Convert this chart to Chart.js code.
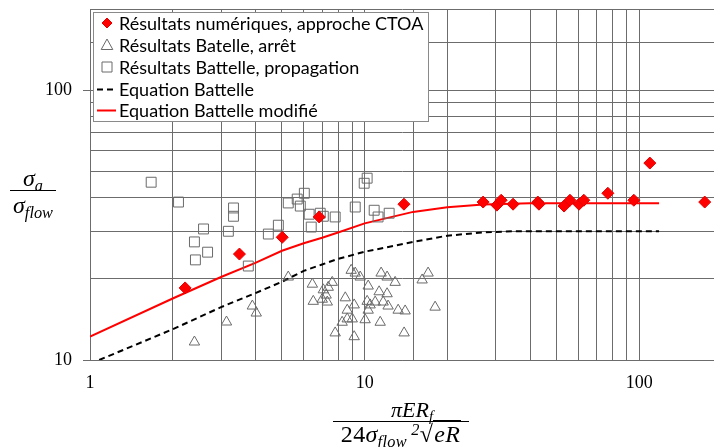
<!DOCTYPE html>
<html>
<head>
<meta charset="utf-8">
<script src="https://cdn.jsdelivr.net/npm/chart.js@4.4.1/dist/chart.umd.min.js"></script>
<style>
  html, body { margin: 0; padding: 0; background: #fff; }
  #wrap { position: relative; width: 714px; height: 447px; overflow: hidden; }
  canvas { position: absolute; left: 0; top: 0; }
  .math { position: absolute; font-family: 'Liberation Serif', 'DejaVu Serif', serif; font-style: italic; color: #000; text-align: center; white-space: nowrap; }
  .math sub { font-size: 0.68em; vertical-align: -0.3em; line-height: 0; }
  .math sup { font-size: 0.68em; vertical-align: 0.45em; line-height: 0; }
  .up { font-style: normal; }
  .bar { border-top: 1.5px solid #000; }
  .rad { border-top: 1px solid #000; padding: 0 1px; }
</style>
</head>
<body>
<div id="wrap">
  <canvas id="c" width="714" height="447"></canvas>
  <div class="math" style="left:10px; top:166px; width:46px; font-size:24px;">
    <div style="line-height:24px;">σ<sub>a</sub></div>
    <div class="bar" style="line-height:24px; padding-top:2px;">σ<sub>flow</sub></div>
  </div>
  <div class="math" style="left:333px; top:398px; width:136px; font-size:22px;">
    <div style="line-height:23px; padding-left:22px;">πER<sub>f</sub></div>
    <div class="bar" style="line-height:23px; padding-top:1px; font-size:24px; letter-spacing:0.3px;"><span class="up">24</span>σ<sub>flow</sub><sup>&nbsp;2</sup><span class="up">√</span><span class="rad">eR</span></div>
  </div>
</div>
<script>
// ---- data ----
const numX = [2.22, 3.50, 5.01, 6.83, 13.9, 27.0, 30.3, 31.4, 34.7, 42.7, 43.1, 53.2, 55.9, 60.3, 62.8, 76.8, 95.5, 109.2, 173];
const numY = [18.5, 24.7, 28.5, 33.9, 37.8, 38.5, 37.5, 39.1, 37.8, 38.5, 37.8, 37.2, 39.1, 37.8, 39.1, 41.5, 39.1, 53.7, 38.5];

const arretX = [2.40, 3.14, 3.90, 4.03, 5.27, 6.45, 6.50, 7.07, 7.24, 7.01, 7.31, 7.37, 7.62, 7.81, 8.28,
                8.50, 8.64, 8.64, 8.93, 9.01, 9.16, 9.16, 9.24, 9.63, 10.04, 10.21, 10.30, 10.30, 10.47, 10.92,
                11.39, 11.29, 11.48, 11.68, 12.07, 12.07, 12.17, 12.91, 13.24, 14.04, 13.92, 16.19, 17.02, 18.05];
const arretY = [11.66, 13.83, 15.85, 14.93, 20.3, 19.1, 16.5, 18.2, 17.4, 16.8, 16.4, 18.6, 19.4, 12.6, 13.8,
                17.0, 15.3, 14.2, 21.5, 14.2, 12.2, 16.0, 21.0, 20.3, 14.1, 16.5, 15.3, 18.8, 16.0, 16.4,
                13.8, 17.9, 21.0, 16.4, 20.3, 17.6, 15.85, 19.4, 15.3, 15.2, 12.6, 19.8, 21.0, 15.7];

const propX = [1.67, 2.10, 3.33, 3.33, 2.59, 3.19, 2.40, 2.68, 2.42, 3.77, 4.46, 4.85, 5.27, 5.68, 5.83,
               6.03, 6.28, 6.39, 6.89, 7.07, 7.81, 9.24, 9.96, 10.21, 10.83, 11.19, 12.28];
const propY = [45.6, 38.5, 36.6, 34.1, 30.6, 30.0, 27.4, 25.1, 23.5, 22.3, 29.3, 31.6, 38.2, 39.5, 37.2,
               41.5, 34.7, 31.1, 35.0, 34.1, 33.9, 36.9, 45.2, 47.2, 35.9, 33.9, 35.0];

const batX = [1.08, 2, 3, 4, 5, 6, 7, 8, 10, 15, 20, 27, 35, 60, 90, 118];
const batY = [10.0, 13.0, 15.7, 17.7, 19.5, 21.4, 22.6, 23.7, 25.2, 27.4, 28.9, 29.7, 30.0, 30.0, 30.0, 30.0];

const modX = [1, 2, 3, 4, 5, 6, 7, 8, 10, 15, 20, 27, 40, 60, 90, 118];
const modY = [12.2, 16.9, 20.3, 22.9, 25.4, 27.1, 28.4, 29.7, 32.1, 35.4, 36.8, 37.7, 38.1, 38.1, 38.1, 38.1];

const labels = [
  'Résultats numériques, approche CTOA',
  'Résultats Batelle, arrêt',
  'Résultats Battelle, propagation',
  'Equation Battelle',
  'Equation Battelle modifié'
];
const xLabelTicks = [1, 10, 100];
const yLabelTicks = [10, 100];

// ---- chart ----
const pts = (xs, ys) => xs.map((x, i) => ({ x: x, y: ys[i] }));
const GRID = '#6c6c6c';
const MARK = '#6a6a6a';
const near = (v, list) => list.some(t => Math.abs(v - t) < 1e-6 * t);
const noPad = s => { s.paddingLeft = 0; s.paddingRight = 0; s.paddingTop = 0; s.paddingBottom = 0; };

const boxLegend = {
  id: 'boxLegend',
  afterDraw(chart) {
    const ctx = chart.ctx;
    ctx.save();
    ctx.fillStyle = '#ffffff';
    ctx.strokeStyle = '#8a8a8a';
    ctx.lineWidth = 1;
    ctx.fillRect(93.5, 12.5, 335, 109);
    ctx.strokeRect(93.5, 12.5, 335, 109);
    const rows = [23, 45, 67, 89.5, 110.5];
    const mx = 107;
    chart.data.datasets.forEach((ds, i) => {
      const cy = rows[i];
      ctx.save();
      if (ds.showLine) {
        ctx.strokeStyle = ds.borderColor;
        ctx.lineWidth = ds.borderWidth;
        ctx.setLineDash(ds.borderDash || []);
        ctx.beginPath();
        ctx.moveTo(97, cy);
        ctx.lineTo(116, cy);
        ctx.stroke();
      } else {
        ctx.beginPath();
        const st = ds.pointStyle;
        if (st === 'rectRot') {
          const r = 5;
          ctx.moveTo(mx - r, cy); ctx.lineTo(mx, cy - r); ctx.lineTo(mx + r, cy); ctx.lineTo(mx, cy + r);
        } else if (st === 'triangle') {
          ctx.moveTo(mx, cy - 6); ctx.lineTo(mx + 5.8, cy + 4.5); ctx.lineTo(mx - 5.8, cy + 4.5);
        } else {
          ctx.rect(mx - 5, cy - 5, 10, 10);
        }
        ctx.closePath();
        ctx.fillStyle = ds.backgroundColor;
        ctx.fill();
        ctx.strokeStyle = ds.borderColor;
        ctx.lineWidth = 1;
        ctx.stroke();
      }
      ctx.restore();
      ctx.fillStyle = '#000';
      ctx.font = '18px Lato';
      ctx.textBaseline = 'middle';
      ctx.textAlign = 'left';
      ctx.fillText(ds.label, 119, cy + 1);
    });
    ctx.restore();
  }
};

new Chart(document.getElementById('c'), {
  type: 'scatter',
  data: {
    datasets: [
      { label: labels[0], data: pts(numX, numY), pointStyle: 'rectRot', pointRadius: 6, backgroundColor: '#ff0000', borderColor: '#e00000', borderWidth: 1 },
      { label: labels[1], data: pts(arretX, arretY), pointStyle: 'triangle', pointRadius: 6, backgroundColor: 'rgba(255,255,255,0)', borderColor: MARK, borderWidth: 1 },
      { label: labels[2], data: pts(propX, propY), pointStyle: 'rect', pointRadius: 7, backgroundColor: 'rgba(255,255,255,0)', borderColor: MARK, borderWidth: 1 },
      { label: labels[3], data: pts(batX, batY), showLine: true, pointRadius: 0, borderColor: '#000000', borderWidth: 2, borderDash: [6, 4], backgroundColor: '#000' },
      { label: labels[4], data: pts(modX, modY), showLine: true, pointRadius: 0, borderColor: '#ff0000', borderWidth: 2, backgroundColor: '#ff0000' }
    ]
  },
  options: {
    responsive: false,
    animation: false,
    events: [],
    layout: { autoPadding: false, padding: { top: 9, left: 0, right: 0, bottom: 0 } },
    plugins: { legend: { display: false }, tooltip: { enabled: false } },
    scales: {
      x: {
        type: 'logarithmic', min: 1, max: 187,
        afterFit: s => { s.height = 87; noPad(s); },
        grid: {
          color: c => (c.tick && c.tick.value > 100.001 && c.tick.value < 186) ? 'rgba(0,0,0,0)' : GRID,
          lineWidth: 1, drawTicks: false
        },
        border: { color: GRID, width: 1 },
        ticks: {
          autoSkip: false, maxRotation: 0, minRotation: 0, padding: 12, color: '#000',
          font: { family: 'Liberation Serif', size: 18 },
          callback: v => near(v, xLabelTicks) ? String(Math.round(v)) : ''
        }
      },
      y: {
        type: 'logarithmic', min: 10, max: 200,
        afterFit: s => { s.width = 90; noPad(s); },
        grid: {
          color: GRID, lineWidth: 1, drawTicks: true, tickLength: 7,
          tickColor: c => (c.tick && near(c.tick.value, yLabelTicks)) ? GRID : 'rgba(0,0,0,0)'
        },
        border: { color: GRID, width: 1 },
        ticks: {
          autoSkip: false, padding: 11, color: '#000',
          font: { family: 'Liberation Serif', size: 18 },
          callback: v => near(v, yLabelTicks) ? String(Math.round(v)) : ''
        }
      }
    }
  },
  plugins: [boxLegend]
});
</script>
</body>
</html>
